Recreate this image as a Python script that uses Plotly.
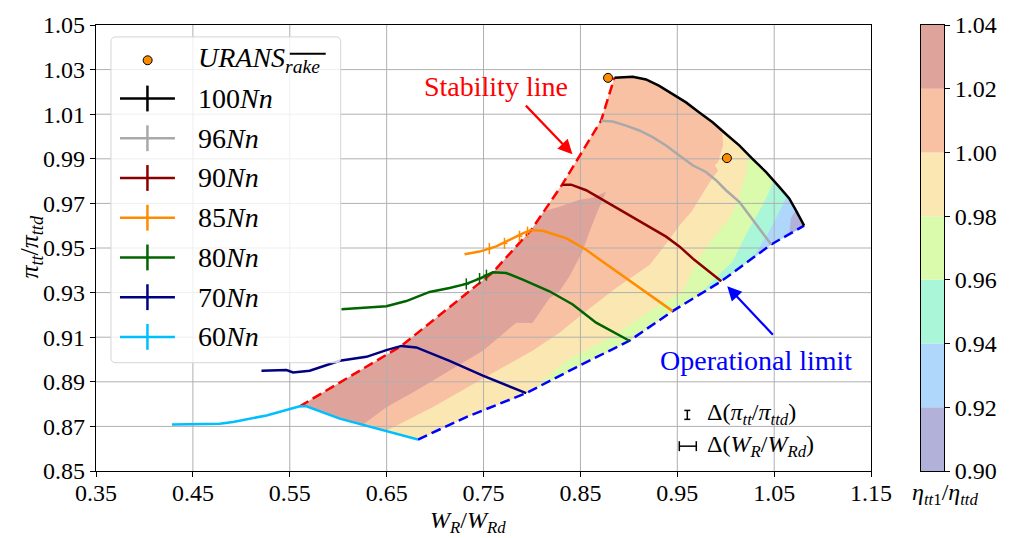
import numpy as np
import plotly.graph_objects as go

# ---------------- speed lines: W_R/W_Rd  vs  pi_tt/pi_ttd ----------------
w100 = [0.8851, 0.9039, 0.9177, 0.9314, 0.9452, 0.9590, 0.9727, 0.9864, 1.0002,
        1.0139, 1.0276, 1.0414, 1.0552, 1.0655, 1.0723, 1.0809]
p100 = [1.0264, 1.0268, 1.0256, 1.0227, 1.0190, 1.0153, 1.0108, 1.0064, 1.0011,
        0.9960, 0.9900, 0.9841, 0.9774, 0.9722, 0.9670, 0.9600]

w96 = [0.8713, 0.8833, 0.8971, 0.9108, 0.9246, 0.9383, 0.9521, 0.9658, 0.9796,
       0.9899, 1.0002, 1.0139, 1.0242, 1.0345, 1.0469]
p96 = [1.0071, 1.0067, 1.0049, 1.0027, 0.9997, 0.9960, 0.9915, 0.9871, 0.9841,
       0.9804, 0.9759, 0.9707, 0.9648, 0.9588, 0.9516]

w90 = [0.8311, 0.8404, 0.8559, 0.8765, 0.8971, 0.9177, 0.9384, 0.9521, 0.9675, 0.9954]
p90 = [0.9784, 0.9784, 0.9759, 0.9707, 0.9655, 0.9603, 0.9551, 0.9507, 0.9447, 0.9351]

w85 = [0.7304, 0.7459, 0.7631, 0.7802, 0.7905, 0.7992, 0.8111, 0.8353, 0.8559,
       0.8713, 0.9005, 0.9452]
p85 = [0.9472, 0.9484, 0.9507, 0.9544, 0.9566, 0.9581, 0.9577, 0.9544, 0.9492,
       0.9444, 0.9355, 0.9217]

w80 = [0.6033, 0.6291, 0.6497, 0.6703, 0.6943, 0.7149, 0.7322, 0.7459, 0.7596,
       0.7734, 0.7905, 0.8180, 0.8421, 0.8662, 0.9005]
p80 = [0.9225, 0.9232, 0.9239, 0.9262, 0.9303, 0.9321, 0.9339, 0.9363, 0.9391,
       0.9388, 0.9358, 0.9306, 0.9247, 0.9165, 0.9084]

w70 = [0.5208, 0.5466, 0.5534, 0.5706, 0.6015, 0.6291, 0.6497, 0.6652, 0.6806,
       0.7149, 0.7493, 0.7940]
p70 = [0.8950, 0.8953, 0.8942, 0.8950, 0.8994, 0.9012, 0.9042, 0.9061, 0.9054,
       0.8994, 0.8928, 0.8849]

w60 = [0.4284, 0.4572, 0.4778, 0.4915, 0.5260, 0.5603, 0.5672, 0.6015, 0.6462, 0.6823]
p60 = [0.8709, 0.8709, 0.8712, 0.8720, 0.8749, 0.8790, 0.8790, 0.8735, 0.8683, 0.8641]

# measurement uncertainty samples on the unstable branches
err85_w = [0.7560, 0.7716, 0.7871, 0.7954]
err85_p = [0.9497, 0.9521, 0.9553, 0.9571]
err80_w = [0.7322, 0.7459, 0.7530]
err80_p = [0.9339, 0.9363, 0.9378]
err_dw = 0.003
err_dp = 0.0025

# stability line (speed line peaks) and operational limit
w_stab = [0.5603, 0.6652, 0.7596, 0.7992, 0.8311, 0.8713, 0.8851]
p_stab = [0.8790, 0.9061, 0.9391, 0.9581, 0.9784, 1.0071, 1.0264]
w_op = [0.6823, 0.7322, 0.7940, 0.8456, 0.9005, 0.9452, 0.9954, 1.0276, 1.0469, 1.0809]
p_op = [0.8641, 0.8742, 0.8849, 0.8965, 0.9084, 0.9217, 0.9351, 0.9453, 0.9516, 0.9600]

# URANS rake results
w_urans = [0.8785, 1.0012]
p_urans = [1.0263, 0.9903]

# iso-efficiency lines eta_tt1/eta_ttd (band boundaries)
iso102_w = [0.6253, 0.6497, 0.6805, 0.7149, 0.7493, 0.7837, 0.8005, 0.8180, 0.8284,
            0.8387, 0.8521, 0.8593, 0.8675, 0.8765, 0.8624, 0.8490, 0.8284, 0.8120]
iso102_p = [0.8707, 0.8786, 0.8861, 0.8950, 0.9039, 0.9165, 0.9164, 0.9275, 0.9306,
            0.9373, 0.9484, 0.9573, 0.9663, 0.9752, 0.9725, 0.9716, 0.9685, 0.9665]
iso100_w = [0.6497, 0.6974, 0.7490, 0.8005, 0.8284, 0.8521, 0.8868, 0.9216, 0.9388,
            0.9526, 0.9646, 0.9732, 0.9835, 0.9921, 0.9887, 0.9921, 0.9972, 0.9965]
iso100_p = [0.8680, 0.8786, 0.8914, 0.9039, 0.9120, 0.9204, 0.9321, 0.9425, 0.9521,
            0.9603, 0.9663, 0.9722, 0.9796, 0.9848, 0.9871, 0.9885, 0.9960, 1.0025]
iso098_w = [0.8005, 0.8353, 0.8868, 0.9216, 0.9559, 0.9697, 0.9868, 1.0040, 1.0143, 1.0212, 1.0227]
iso098_p = [0.8863, 0.8994, 0.9113, 0.9217, 0.9306, 0.9440, 0.9544, 0.9633, 0.9737, 0.9841, 0.9921]
iso096_w = [0.9727, 1.0070, 1.0242, 1.0379, 1.0448, 1.0490]
iso096_p = [0.9291, 0.9440, 0.9588, 0.9692, 0.9752, 0.9804]
iso094_w = [1.0276, 1.0448, 1.0552, 1.0634]
iso094_p = [0.9453, 0.9574, 0.9663, 0.9733]
iso092_w = [1.0655, 1.0672, 1.0723]
iso092_p = [0.9562, 0.9633, 0.9670]

eta_levels = [0.90, 0.92, 0.94, 0.96, 0.98, 1.00, 1.02, 1.04]
band_colors = ['#b1b1da', '#aed7fb', '#a9f6d9', '#d9fbab', '#fbe7b1', '#f8c1a4', '#dea39b']

x_ticks = [0.35, 0.45, 0.55, 0.65, 0.75, 0.85, 0.95, 1.05, 1.15]
y_ticks = [0.85, 0.87, 0.89, 0.91, 0.93, 0.95, 0.97, 0.99, 1.01, 1.03, 1.05]

speed_lines = [
    ('100', w100, p100, '#000000'),
    ('96', w96, p96, '#a9a9a9'),
    ('90', w90, p90, '#8b0000'),
    ('85', w85, p85, '#ff8c00'),
    ('80', w80, p80, '#006400'),
    ('70', w70, p70, '#000080'),
    ('60', w60, p60, '#00bfff'),
]

FONT = 'Liberation Serif'
W, H = 1009, 538
ML, MR, MT, MB = 96, 64, 22, 67
PW, PH = W - ML - MR, H - MT - MB


def fx(px):
    return (px - ML) / PW


def fy(py):
    return (H - MB - py) / PH


# ---------------- map region and efficiency bands ----------------
cyan_inner = [(w, p) for w, p in zip(w60, p60) if w_stab[0] < w < w_op[0]][::-1]
ring = np.array(list(zip(w_stab, p_stab)) + list(zip(w100[1:], p100[1:])) +
                list(zip(w_op[::-1][1:], p_op[::-1][1:])) + cyan_inner)
SCALE = np.array([970.0, 2245.0])


def seg_index(pt):
    n = len(ring)
    best, kbest = 1e9, 0
    p = np.asarray(pt) * SCALE
    for k in range(n):
        a = ring[k] * SCALE
        b = ring[(k + 1) % n] * SCALE
        ab = b - a
        t = np.clip(np.dot(p - a, ab) / np.dot(ab, ab), 0, 1)
        d = np.linalg.norm(p - (a + t * ab))
        if d < best:
            best, kbest = d, k
    return kbest


def low_side(iso_w, iso_p):
    """Polygon of the map lying on the low-efficiency side of an iso-line."""
    iso = np.column_stack([iso_w, iso_p])
    k_a = seg_index(iso[0])
    k_b = seg_index(iso[-1])
    n = len(ring)
    path = []
    i = (k_b + 1) % n
    while True:
        path.append(ring[i])
        if i == k_a:
            break
        i = (i + 1) % n
    poly = np.vstack([iso, np.array(path)])
    return poly[:, 0], poly[:, 1]


fig = go.Figure()

region_x = list(ring[:, 0]) + [ring[0, 0]]
region_y = list(ring[:, 1]) + [ring[0, 1]]
fig.add_trace(go.Scatter(x=region_x, y=region_y, fill='toself', fillcolor=band_colors[6],
                         mode='lines', line=dict(width=0), hoverinfo='skip', showlegend=False))
isolines = [(iso102_w, iso102_p), (iso100_w, iso100_p), (iso098_w, iso098_p),
            (iso096_w, iso096_p), (iso094_w, iso094_p), (iso092_w, iso092_p)]
for j, (iw, ip) in enumerate(isolines):
    px_, py_ = low_side(iw, ip)
    fig.add_trace(go.Scatter(x=list(px_) + [px_[0]], y=list(py_) + [py_[0]], fill='toself',
                             fillcolor=band_colors[5 - j], mode='lines', line=dict(width=0),
                             hoverinfo='skip', showlegend=False))

# grid drawn over the filled map
gx, gy = [], []
for v in x_ticks[1:-1]:
    gx += [v, v, None]
    gy += [y_ticks[0], y_ticks[-1], None]
for v in y_ticks[1:-1]:
    gx += [x_ticks[0], x_ticks[-1], None]
    gy += [v, v, None]
fig.add_trace(go.Scatter(x=gx, y=gy, mode='lines', line=dict(color='#b0b0b0', width=1),
                         hoverinfo='skip', showlegend=False))

# limit lines
fig.add_trace(go.Scatter(x=w_stab, y=p_stab, mode='lines',
                         line=dict(color='#ff0000', width=2.5, dash='10px,5px'), showlegend=False))
fig.add_trace(go.Scatter(x=w_op, y=p_op, mode='lines',
                         line=dict(color='#0000ff', width=2.5, dash='10px,5px'), showlegend=False))

# speed lines
for name, w, p, c in speed_lines:
    fig.add_trace(go.Scatter(x=w, y=p, mode='lines', line=dict(color=c, width=2.5),
                             name=name + 'Nn', showlegend=False))

for ew, ep, c in [(err85_w, err85_p, '#ff8c00'), (err80_w, err80_p, '#006400')]:
    fig.add_trace(go.Scatter(x=ew, y=ep, mode='markers', marker=dict(size=1, color=c, opacity=0),
                             error_x=dict(type='constant', value=err_dw, color=c, thickness=1.5, width=0),
                             error_y=dict(type='constant', value=err_dp, color=c, thickness=1.5, width=0),
                             showlegend=False, hoverinfo='skip'))

fig.add_trace(go.Scatter(x=w_urans, y=p_urans, mode='markers',
                         marker=dict(size=9, color='#ff8c00', line=dict(color='black', width=1)),
                         showlegend=False))

# colour bar drawn as stacked bands
for j in range(len(band_colors)):
    fig.add_trace(go.Bar(x=[0], y=[eta_levels[j + 1] - eta_levels[j]], base=[eta_levels[j]],
                         width=1, marker=dict(color=band_colors[j], line=dict(width=0)),
                         xaxis='x2', yaxis='y2', showlegend=False, hoverinfo='skip'))

axis_common = dict(showline=True, mirror=True, linecolor='black', linewidth=1.2,
                   ticks='outside', ticklen=5, tickwidth=1.2, tickcolor='black',
                   showgrid=False, zeroline=False,
                   tickfont=dict(family=FONT, size=24, color='black'))

fig.update_layout(
    width=W, height=H,
    margin=dict(l=ML, r=MR, t=MT, b=MB),
    plot_bgcolor='white', paper_bgcolor='white',
    barmode='overlay',
    xaxis=dict(domain=[0, 776 / PW], range=[x_ticks[0], x_ticks[-1]],
               tickvals=x_ticks, ticktext=['%.2f' % v for v in x_ticks],
               ticklabelstandoff=-5, **axis_common),
    yaxis=dict(domain=[0, 1], range=[y_ticks[0], y_ticks[-1]],
               tickvals=y_ticks, ticktext=['%.2f' % v for v in y_ticks], **axis_common),
    xaxis2=dict(domain=[(922 - ML) / PW, 1.0], range=[-0.5, 0.5], anchor='y2',
                showline=True, mirror=True, linecolor='black', linewidth=1,
                showticklabels=False, ticks='', showgrid=False, zeroline=False),
    yaxis2=dict(domain=[0, 1], range=[eta_levels[0], eta_levels[-1]], anchor='x2', side='right',
                tickvals=eta_levels, ticktext=['%.2f' % v for v in eta_levels],
                **{k: v for k, v in axis_common.items() if k not in ('linewidth',)}, linewidth=1),
    showlegend=False,
)

shapes = []
annotations = []


def label(px, py, text, size, color='black', anchor='center', angle=0):
    annotations.append(dict(x=fx(px), y=fy(py), xref='paper', yref='paper', showarrow=False,
                            xanchor=anchor, yanchor='middle', textangle=angle, text=text,
                            font=dict(family=FONT, size=size, color=color)))


# legend box with rounded corners
x0, x1, y0, y1, r = 111, 341, 34, 362, 5
path = ('M {a},{b} L {c},{b} Q {d},{b} {d},{e} L {d},{f} Q {d},{g} {c},{g} '
        'L {a},{g} Q {h},{g} {h},{f} L {h},{e} Q {h},{b} {a},{b} Z').format(
    a=fx(x0 + r), b=fy(y0), c=fx(x1 - r), d=fx(x1), e=fy(y0 + r), f=fy(y1 - r), g=fy(y1), h=fx(x0))
shapes.append(dict(type='path', path=path, xref='paper', yref='paper', layer='above',
                   fillcolor='rgba(255,255,255,0.8)', line=dict(color='#d5d5d5', width=1)))

rows = [57, 96, 136, 176, 216, 256, 296, 336]
shapes.append(dict(type='circle', xref='paper', yref='paper', layer='above',
                   x0=fx(143.2), x1=fx(152.2), y0=fy(62), y1=fy(53),
                   fillcolor='#ff8c00', line=dict(color='black', width=1)))
label(196, rows[0], '<i>URANS</i><sub><i>rake</i></sub>', 28, anchor='left')
shapes.append(dict(type='line', xref='paper', yref='paper', layer='above',
                   x0=fx(290), x1=fx(326), y0=fy(51), y1=fy(51), line=dict(color='black', width=2)))
for (name, w, p, c), yy in zip(speed_lines, rows[1:]):
    shapes.append(dict(type='line', xref='paper', yref='paper', layer='above',
                       x0=fx(120), x1=fx(175), y0=fy(yy), y1=fy(yy), line=dict(color=c, width=2.5)))
    shapes.append(dict(type='line', xref='paper', yref='paper', layer='above',
                       x0=fx(147.5), x1=fx(147.5), y0=fy(yy - 13), y1=fy(yy + 13),
                       line=dict(color=c, width=2.5)))
    label(196, yy, name + '<i>Nn</i>', 28, anchor='left')

# uncertainty key
for s in [((688, 410), (688, 419)), ((685, 410), (691, 410)), ((685, 419), (691, 419)),
          ((680, 446), (697, 446)), ((680, 441), (680, 451)), ((697, 441), (697, 451))]:
    shapes.append(dict(type='line', xref='paper', yref='paper', layer='above',
                       x0=fx(s[0][0]), y0=fy(s[0][1]), x1=fx(s[1][0]), y1=fy(s[1][1]),
                       line=dict(color='black', width=1.5)))
label(706, 414, 'Δ(<i>π</i><sub><i>tt</i></sub>/<i>π</i><sub><i>ttd</i></sub>)', 24, anchor='left')
label(706, 446, 'Δ(<i>W</i><sub><i>R</i></sub>/<i>W</i><sub><i>Rd</i></sub>)', 24, anchor='left')

# labelled limits
label(496, 84, 'Stability line', 28, color='#ff0000')
annotations.append(dict(x=fx(573), y=fy(152), xref='paper', yref='paper', text='',
                        showarrow=True, ax=-48, ay=-50, arrowhead=2, arrowsize=1.3,
                        arrowwidth=2.2, arrowcolor='#ff0000'))
label(757, 360, 'Operational limit', 28, color='#0000ff')
annotations.append(dict(x=fx(728), y=fy(285), xref='paper', yref='paper', text='',
                        showarrow=True, ax=47, ay=50, arrowhead=2, arrowsize=1.3,
                        arrowwidth=2.2, arrowcolor='#0000ff'))

# axis titles
label(468, 522, '<i>W</i><sub><i>R</i></sub>/<i>W</i><sub><i>Rd</i></sub>', 24)
label(30, 245, '<i>π</i><sub><i>tt</i></sub>/<i>π</i><sub><i>ttd</i></sub>', 26, angle=-90)
label(947, 494, '<i>η</i><sub><i>tt</i>1</sub>/<i>η</i><sub><i>ttd</i></sub>', 24)

fig.update_layout(shapes=shapes, annotations=annotations)
fig.write_html('out.html')
